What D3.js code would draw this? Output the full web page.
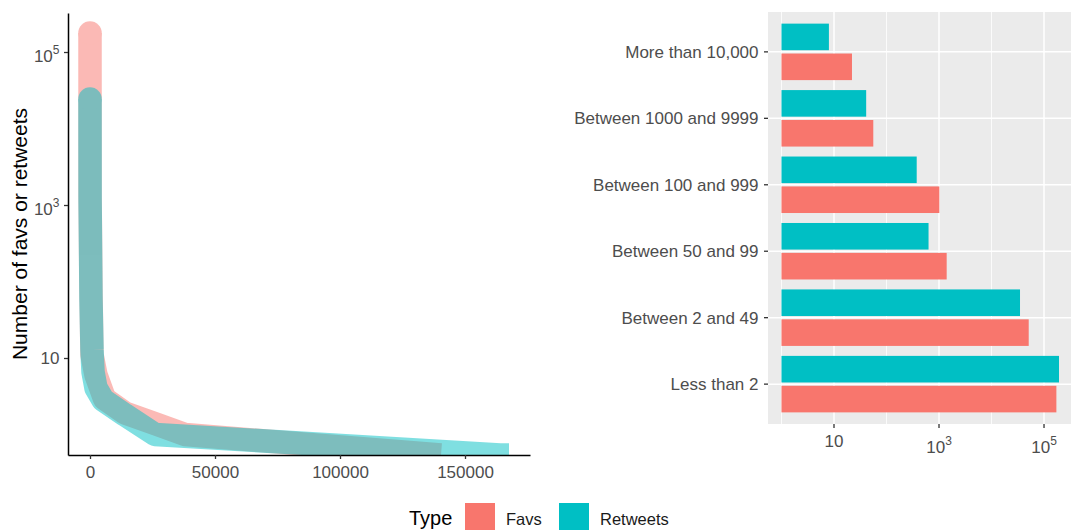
<!DOCTYPE html>
<html>
<head>
<meta charset="utf-8">
<script src="https://cdn.jsdelivr.net/npm/d3@7"></script>
<style>
  html, body { margin: 0; padding: 0; background: #fff; }
  svg { display: block; font-family: "Liberation Sans", Arial, sans-serif; }
</style>
</head>
<body>
<svg id="chart" width="1071" height="530"></svg>
<script>
// Ranked favs / retweets per tweet (rank along x, count on a log axis; 0 sits on the floor)
const favRanks   = [0, 30, 400, 800, 2400, 5800, 14000, 26400, 38000, 140400];
const favCounts  = [177000, 1300, 70, 11, 6, 2.95, 1.91, 1.37, 1, 0];
const rtRanks    = [0, 40, 400, 800, 1200, 2400, 5200, 14000, 26000, 164000, 167600];
const rtCounts   = [24300, 1160, 57, 12.7, 6.6, 4.05, 2.83, 1.8, 1, 0, 0];

// Number of tweets per bucket
const buckets     = ["Less than 2", "Between 2 and 49", "Between 50 and 99",
                     "Between 100 and 999", "Between 1000 and 9999", "More than 10,000"];
const favBuckets  = [172000, 51100, 1400, 1014, 56, 22];
const rtBuckets   = [193000, 34900, 632, 376, 41, 8];

// Axis breaks
const rankTicks = [0, 50000, 100000, 150000];
const logTicks  = [10, 1000, 100000];
const types     = ["Favs", "Retweets"];
const typeColor = { Favs: "#F8766D", Retweets: "#00BFC4" };

const svg = d3.select("#chart");
const tickFont = 17;
const labelGrey = "#4D4D4D";

// label "10", "10^3", "10^5" with a real superscript
function powerLabel(sel, v) {
  const e = Math.round(Math.log10(v));
  if (e === 1) { sel.text("10"); return false; }
  sel.text("10");
  sel.append("tspan").attr("font-size", 12).attr("dy", -8).text(e);
  return true;
}

/* ---------------- left: ranked curves ---------------- */
const L = { left: 68, right: 530, top: 13, bottom: 455 };
const xL = d3.scaleLinear().domain([-8800, 176000]).range([L.left, L.right]);
const yL = d3.scaleLog().domain([Math.pow(10, -0.268), Math.pow(10, 5.51)]).range([L.bottom, L.top]);

svg.append("defs").append("clipPath").attr("id", "leftPanel")
  .append("rect").attr("x", L.left).attr("y", L.top)
  .attr("width", L.right - L.left).attr("height", L.bottom - L.top);

const curveLayer = svg.append("g").attr("clip-path", "url(#leftPanel)");
const lineGen = d3.line()
  .x(d => xL(d[0]))
  .y(d => d[1] > 0 ? yL(d[1]) : L.bottom);
const lineWidth = 23.5;

function drawCurve(ranks, counts, color) {
  const pts = ranks.map((r, i) => [r, counts[i]]);
  const g = curveLayer.append("g").attr("opacity", 0.5);
  g.append("path")
    .attr("d", lineGen(pts))
    .attr("fill", "none")
    .attr("stroke", color)
    .attr("stroke-width", lineWidth)
    .attr("stroke-linejoin", "round")
    .attr("stroke-linecap", "butt");
  g.append("circle")
    .attr("cx", xL(pts[0][0]))
    .attr("cy", yL(pts[0][1]))
    .attr("r", lineWidth / 2)
    .attr("fill", color);
}
drawCurve(favRanks, favCounts, typeColor.Favs);
drawCurve(rtRanks, rtCounts, typeColor.Retweets);

// x axis
const xAxisL = svg.append("g").attr("transform", `translate(0,${L.bottom})`)
  .call(d3.axisBottom(xL).tickValues(rankTicks).tickSize(4).tickSizeOuter(0).tickPadding(7)
        .tickFormat(d3.format("d")));
xAxisL.select(".domain").attr("stroke", "#000").attr("stroke-width", 1.5);
xAxisL.selectAll(".tick line").attr("stroke", "#333").attr("stroke-width", 1.3);
xAxisL.selectAll(".tick text").attr("font-size", tickFont).attr("fill", labelGrey)
  .attr("font-family", "Liberation Sans, Arial, sans-serif");

// y axis
const yAxisL = svg.append("g").attr("transform", `translate(${L.left},0)`)
  .call(d3.axisLeft(yL).tickValues(logTicks).tickSize(4).tickSizeOuter(0).tickFormat(""));
yAxisL.select(".domain").attr("stroke", "#000").attr("stroke-width", 1.5);
yAxisL.selectAll(".tick line").attr("stroke", "#333").attr("stroke-width", 1.3);
logTicks.forEach(v => {
  const t = svg.append("text")
    .attr("x", L.left - 8.5)
    .attr("text-anchor", "end")
    .attr("font-size", tickFont)
    .attr("fill", labelGrey);
  const sup = powerLabel(t, v);
  t.attr("y", yL(v) + (sup ? 10 : 6));
});

svg.append("text")
  .attr("transform", `translate(27,${(L.top + L.bottom) / 2}) rotate(-90)`)
  .attr("text-anchor", "middle")
  .attr("font-size", 21)
  .attr("fill", "#000")
  .text("Number of favs or retweets");

/* ---------------- right: bucket bars ---------------- */
const R = { left: 768, right: 1073, top: 12, bottom: 424 };
const xR = d3.scaleLog().domain([Math.pow(10, -0.257), Math.pow(10, 5.552)]).range([R.left, R.right]);
const yR = d3.scaleLinear().domain([0.4, buckets.length + 0.6]).range([R.bottom, R.top]);
const unit = (R.bottom - R.top) / (buckets.length + 0.2);

svg.append("rect")
  .attr("x", R.left).attr("y", R.top)
  .attr("width", R.right - R.left).attr("height", R.bottom - R.top)
  .attr("fill", "#EBEBEB");

const grid = svg.append("g");
[1, 100, 10000].forEach(v => {
  grid.append("line").attr("x1", xR(v)).attr("x2", xR(v))
    .attr("y1", R.top).attr("y2", R.bottom)
    .attr("stroke", "#fff").attr("stroke-width", 0.8);
});
logTicks.forEach(v => {
  grid.append("line").attr("x1", xR(v)).attr("x2", xR(v))
    .attr("y1", R.top).attr("y2", R.bottom)
    .attr("stroke", "#fff").attr("stroke-width", 1.5);
});
buckets.forEach((b, i) => {
  grid.append("line").attr("x1", R.left).attr("x2", R.right)
    .attr("y1", yR(i + 1)).attr("y2", yR(i + 1))
    .attr("stroke", "#fff").attr("stroke-width", 1.5);
});

// dodged bars: Favs below the category line, Retweets above
const barH = 0.4 * unit;
const offset = 0.225 * unit;
const barRows = [];
buckets.forEach((b, i) => {
  barRows.push({ idx: i + 1, type: "Favs", value: favBuckets[i], shift: offset });
  barRows.push({ idx: i + 1, type: "Retweets", value: rtBuckets[i], shift: -offset });
});
svg.append("g").selectAll("rect").data(barRows).join("rect")
  .attr("x", xR(1))
  .attr("y", d => yR(d.idx) + d.shift - barH / 2)
  .attr("width", d => xR(d.value) - xR(1))
  .attr("height", barH)
  .attr("fill", d => typeColor[d.type]);

// category axis
buckets.forEach((b, i) => {
  const y = yR(i + 1);
  svg.append("line").attr("x1", R.left - 4).attr("x2", R.left)
    .attr("y1", y).attr("y2", y).attr("stroke", "#333").attr("stroke-width", 1.3);
  svg.append("text")
    .attr("x", R.left - 9.5).attr("y", y + 6)
    .attr("text-anchor", "end")
    .attr("font-size", tickFont)
    .attr("fill", labelGrey)
    .text(b);
});

// value axis
logTicks.forEach(v => {
  const x = xR(v);
  svg.append("line").attr("x1", x).attr("x2", x)
    .attr("y1", R.bottom).attr("y2", R.bottom + 4)
    .attr("stroke", "#333").attr("stroke-width", 1.3);
  const t = svg.append("text")
    .attr("x", x)
    .attr("text-anchor", "middle")
    .attr("font-size", tickFont)
    .attr("fill", labelGrey);
  const sup = powerLabel(t, v);
  t.attr("y", sup ? 453 : 447);
});

/* ---------------- legend ---------------- */
const legend = svg.append("g");
legend.append("text").attr("x", 409).attr("y", 525)
  .attr("font-size", 20).attr("fill", "#000").text("Type");
const keyX = { Favs: 465, Retweets: 559 };
types.forEach(t => {
  legend.append("rect").attr("x", keyX[t]).attr("y", 503)
    .attr("width", 30).attr("height", 30)
    .attr("fill", typeColor[t]);
  legend.append("text").attr("x", keyX[t] + 41).attr("y", 525)
    .attr("font-size", 16.5).attr("fill", "#1a1a1a").text(t);
});
</script>
</body>
</html>
